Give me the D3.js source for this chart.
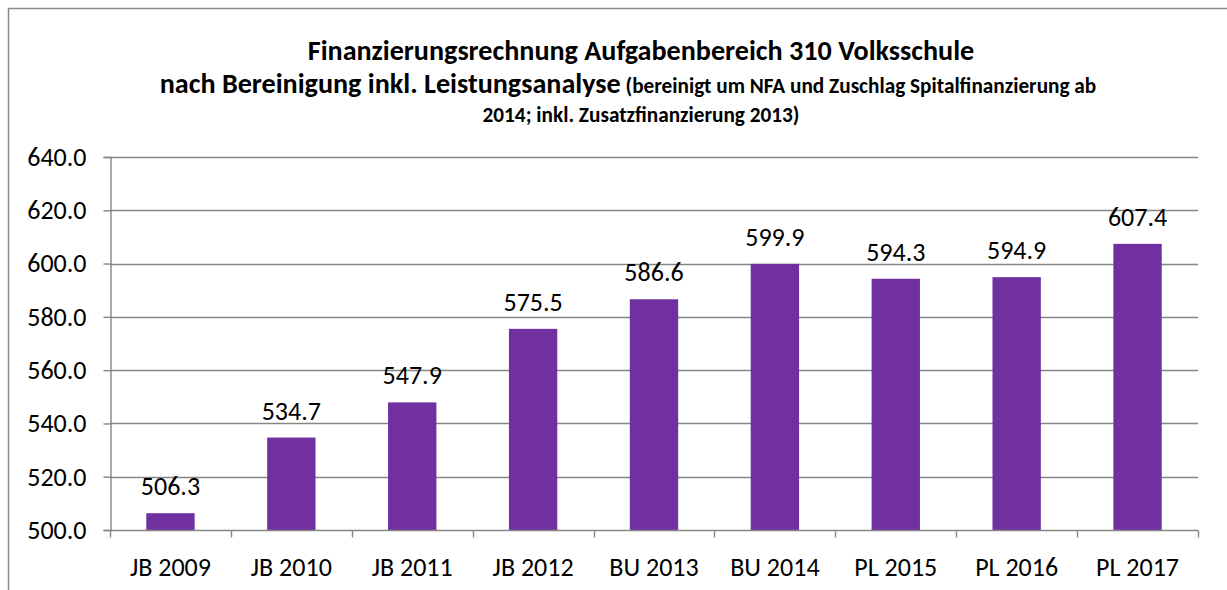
<!DOCTYPE html>
<html><head><meta charset="utf-8">
<script src="https://cdn.jsdelivr.net/npm/d3@7"></script>
<style>body{margin:0;background:#fff}svg{display:block}</style>
</head><body>
<svg id="c" width="1227" height="590"></svg>
<script>
const categories = ["JB 2009","JB 2010","JB 2011","JB 2012","BU 2013","BU 2014","PL 2015","PL 2016","PL 2017"];
const values = [506.3,534.7,547.9,575.5,586.6,599.9,594.3,594.9,607.4];
const yTicks = [500,520,540,560,580,600,620,640];
const titleLine1 = "Finanzierungsrechnung Aufgabenbereich 310 Volksschule";
const titleLine2Big = "nach Bereinigung inkl. Leistungsanalyse";
const titleLine2Small = " (bereinigt um NFA und Zuschlag Spitalfinanzierung ab";
const titleLine3 = "2014; inkl. Zusatzfinanzierung 2013)";

const FONT = "Carlito, Lato, 'Open Sans', sans-serif";
const FS = 26;
const svg = d3.select("#c");
const m = {left:110, right:1198, top:157, bottom:530};

// frame
svg.append("path").attr("d","M8.5,600 V8.5 H1240")
  .attr("fill","none").attr("stroke","#8a8a8a").attr("stroke-width",1.5);

const x = d3.scaleBand().domain(categories).range([m.left,m.right]).paddingInner(0.6).paddingOuter(0.3);
const y = d3.scaleLinear().domain([500,640]).range([m.bottom,m.top]);

// gridlines
svg.append("g").selectAll("line").data(yTicks.slice(1)).join("line")
  .attr("x1",m.left).attr("x2",m.right)
  .attr("y1",d=>Math.round(y(d))+0.5).attr("y2",d=>Math.round(y(d))+0.5)
  .attr("stroke","#868686").attr("stroke-width",1.4);

// bars
svg.append("g").selectAll("rect").data(values).join("rect")
  .attr("x",(d,i)=>x(categories[i])).attr("width",x.bandwidth())
  .attr("y",d=>y(d)).attr("height",d=>y(500)-y(d))
  .attr("fill","#7030A0");

// y axis
const ya = svg.append("g").attr("transform",`translate(${m.left+0.5},0)`)
  .call(d3.axisLeft(y).tickValues(yTicks).tickFormat(d3.format(".1f")).tickSize(7).tickPadding(17));
ya.selectAll("path,line").attr("stroke","#868686").attr("stroke-width",1.4);
ya.selectAll("text").attr("font-family",FONT).attr("font-size",FS).attr("fill","#000");

// x axis
const xPos = d3.scaleLinear().domain([0,categories.length]).range([m.left,m.right]);
const xa = svg.append("g").attr("transform",`translate(0,${m.bottom+0.5})`);
xa.append("line").attr("x1",m.left).attr("x2",m.right).attr("stroke","#868686").attr("stroke-width",1.4);
xa.selectAll("line.t").data(d3.range(categories.length+1)).join("line").attr("class","t")
  .attr("x1",d=>Math.round(xPos(d))+0.5).attr("x2",d=>Math.round(xPos(d))+0.5)
  .attr("y1",0).attr("y2",7).attr("stroke","#868686").attr("stroke-width",1.4);
xa.selectAll("text").data(categories).join("text")
  .attr("x",d=>x(d)+x.bandwidth()/2).attr("y",45)
  .attr("text-anchor","middle").attr("font-family",FONT).attr("font-size",FS).attr("fill","#000")
  .text(d=>d);

// data labels
svg.append("g").selectAll("text").data(values).join("text")
  .attr("x",(d,i)=>x(categories[i])+x.bandwidth()/2).attr("y",d=>y(d)-18)
  .attr("text-anchor","middle").attr("font-family",FONT).attr("font-size",FS).attr("fill","#000")
  .text(d=>d3.format(".1f")(d));

// title
function fit(sel, target){
  let fs = +sel.attr("font-size");
  const w = sel.node().getComputedTextLength();
  fs = fs*target/w; sel.attr("font-size",fs); return fs;
}
const t1 = svg.append("text").attr("x",641).attr("y",60).attr("text-anchor","middle")
  .attr("font-family",FONT).attr("font-weight","bold").attr("font-size",22).text(titleLine1);
const bigFs = fit(t1,667);
const t3 = svg.append("text").attr("x",641).attr("y",122).attr("text-anchor","middle")
  .attr("font-family",FONT).attr("font-weight","bold").attr("font-size",15).text(titleLine3);
const smallFs = fit(t3,317);
const t2 = svg.append("text").attr("x",628).attr("y",93).attr("text-anchor","middle")
  .attr("font-family",FONT).attr("font-weight","bold");
t2.append("tspan").attr("font-size",bigFs).text(titleLine2Big);
t2.append("tspan").attr("font-size",smallFs).text(titleLine2Small);
</script>
</body></html>
